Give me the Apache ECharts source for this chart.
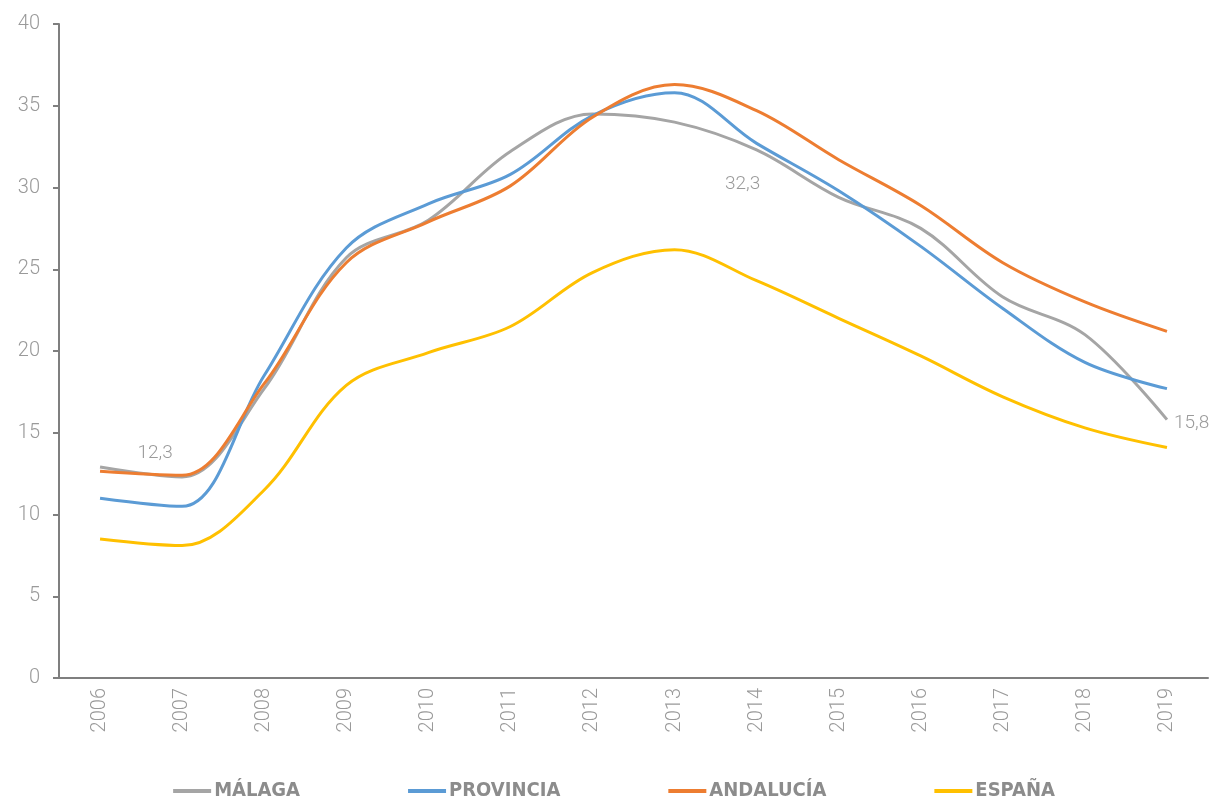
<!DOCTYPE html>
<html>
<head>
<meta charset="utf-8">
<script src="https://cdn.jsdelivr.net/npm/echarts@6/dist/echarts.min.js"></script>
<style>
  html, body { margin: 0; padding: 0; background: #fff; }
  #chart { width: 1228px; height: 806px; }
</style>
</head>
<body>
<div id="chart"></div>
<script>
// datos
var years = ['2006', '2007', '2008', '2009', '2010', '2011', '2012', '2013', '2014', '2015', '2016', '2017', '2018', '2019'];
var malaga = [12.9, 12.3, 17.7, 25.7, 28.0, 32.2, 34.5, 34.0, 32.3, 29.4, 27.5, 23.3, 21.0, 15.8];
var provincia = [11.0, 10.5, 18.5, 26.3, 29.0, 30.8, 34.4, 35.8, 32.7, 29.8, 26.4, 22.6, 19.3, 17.7];
var andalucia = [12.65, 12.4, 18.0, 25.4, 27.9, 30.1, 34.3, 36.3, 34.7, 31.7, 28.9, 25.4, 23.0, 21.2];
var espana = [8.5, 8.1, 11.5, 17.9, 19.9, 21.5, 24.8, 26.2, 24.3, 22.0, 19.7, 17.2, 15.3, 14.1];
var yTicks = [0, 5, 10, 15, 20, 25, 30, 35, 40];

var chart = echarts.init(document.getElementById('chart'));

var labelFont = { color: '#9a9a9a', fontSize: 19, fontFamily: 'Roboto', fontWeight: 300 };

// etiquetas solo en algunos puntos de Málaga
var fmt = function (p) { return String(p.value).replace('.', ','); };
var malagaData = malaga.map(function (v, i) {
    var item = { value: v };
    if (i === 1) {
        item.label = Object.assign({ show: true, position: 'top', offset: [-27, -9], formatter: fmt }, labelFont);
    } else if (i === 8) {
        item.label = Object.assign({ show: true, position: 'bottom', offset: [-14, 20], formatter: fmt }, labelFont);
    } else if (i === 13) {
        item.label = Object.assign({ show: true, position: 'right', offset: [2, 4], formatter: fmt }, labelFont);
    }
    return item;
});

function serie(name, data, color) {
    return {
        name: name,
        type: 'line',
        data: data,
        smooth: 0.35,
        symbol: 'circle',
        symbolSize: 0,
        showSymbol: true,
        lineStyle: { color: color, width: 3 },
        itemStyle: { color: color }
    };
}

var option = {
    animation: false,
    backgroundColor: '#fff',
    grid: { left: 59, right: 20, top: 24, bottom: 128 },
    legend: {
        bottom: 0,
        left: 'center',
        itemGap: 108,
        itemWidth: 38,
        itemHeight: 4,
        icon: 'rect',
        textStyle: { color: '#8c8c8c', fontSize: 20, fontWeight: 'bold', fontFamily: 'DejaVu Sans Condensed, Roboto, sans-serif', padding: [0, 0, 0, -2] },
        data: ['MÁLAGA', 'PROVINCIA', 'ANDALUCÍA', 'ESPAÑA']
    },
    xAxis: {
        type: 'category',
        data: years,
        boundaryGap: true,
        axisLine: { lineStyle: { color: '#7f7f7f', width: 2 } },
        axisTick: { show: false },
        axisLabel: { rotate: 90, margin: 10, color: '#9a9a9a', fontSize: 20, fontFamily: 'Roboto', fontWeight: 300 }
    },
    yAxis: {
        type: 'value',
        min: yTicks[0],
        max: yTicks[yTicks.length - 1],
        interval: 5,
        axisLine: { show: true, lineStyle: { color: '#7f7f7f', width: 2 } },
        axisTick: { show: true, length: 6, lineStyle: { color: '#7f7f7f', width: 2 } },
        splitLine: { show: false },
        axisLabel: { margin: 19, color: '#9a9a9a', fontSize: 20, fontFamily: 'Roboto', fontWeight: 300 }
    },
    series: [
        serie('MÁLAGA', malagaData, '#a5a5a5'),
        serie('PROVINCIA', provincia, '#5b9bd5'),
        serie('ANDALUCÍA', andalucia, '#ed7d31'),
        serie('ESPAÑA', espana, '#ffc000')
    ]
};

chart.setOption(option);
</script>
</body>
</html>
